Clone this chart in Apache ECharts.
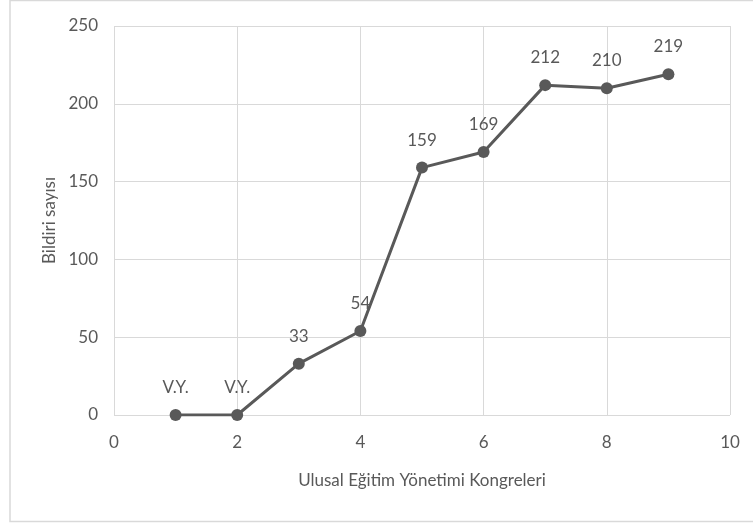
<!DOCTYPE html>
<html>
<head>
<meta charset="utf-8">
<script src="https://cdn.jsdelivr.net/npm/echarts@6/dist/echarts.min.js"></script>
<style>html,body{margin:0;padding:0;background:#fff}#c{width:753px;height:524px}</style>
</head>
<body>
<div id="c"></div>
<script>
const congressNo = [1, 2, 3, 4, 5, 6, 7, 8, 9];
const paperCounts = [0, 0, 33, 54, 159, 169, 212, 210, 219];
const pointLabels = ['V.Y.', 'V.Y.', '33', '54', '159', '169', '212', '210', '219'];
const xTitle = 'Ulusal Eğitim Yönetimi Kongreleri';
const yTitle = 'Bildiri sayısı';

const chart = echarts.init(document.getElementById('c'), null, {renderer: 'canvas'});
const txt = '#595959';
const font = 'Lato, "Open Sans", sans-serif';
const fs = 17;
chart.setOption({
  animation: false,
  backgroundColor: '#fff',
  textStyle: {fontFamily: font},
  graphic: [{
    type: 'rect', shape: {x: 10, y: 0.5, width: 760, height: 521},
    style: {fill: 'none', stroke: '#d9d9d9', lineWidth: 1.5}, silent: true
  }],
  grid: {left: 114, right: 23, top: 26, bottom: 109, show: false},
  xAxis: {
    type: 'value', min: 0, max: 10, interval: 2,
    name: xTitle, nameLocation: 'middle', nameGap: 57,
    nameTextStyle: {color: txt, fontSize: fs, fontFamily: font},
    axisLine: {show: false}, axisTick: {show: false},
    axisLabel: {color: txt, fontSize: fs, margin: 19, fontFamily: font},
    splitLine: {show: true, lineStyle: {color: '#d9d9d9', width: 1}}
  },
  yAxis: {
    type: 'value', min: 0, max: 250, interval: 50,
    name: yTitle, nameLocation: 'middle', nameGap: 55,
    nameTextStyle: {color: txt, fontSize: fs, fontFamily: font},
    axisLine: {show: false}, axisTick: {show: false},
    axisLabel: {color: txt, fontSize: fs, margin: 16, fontFamily: font},
    splitLine: {show: true, lineStyle: {color: '#d9d9d9', width: 1}}
  },
  series: [{
    type: 'line',
    data: congressNo.map((x, i) => [x, paperCounts[i]]),
    symbol: 'circle', symbolSize: 12,
    lineStyle: {color: '#595959', width: 3},
    itemStyle: {color: '#595959'},
    label: {
      show: true, position: 'top', distance: 13,
      color: txt, fontSize: fs, fontFamily: font,
      formatter: p => pointLabels[p.dataIndex]
    }
  }]
});
</script>
</body>
</html>
